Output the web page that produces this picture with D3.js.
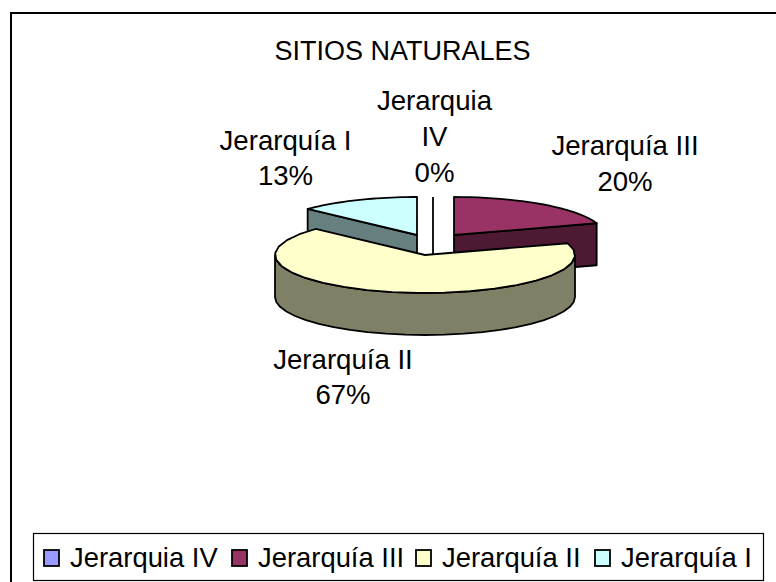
<!DOCTYPE html>
<html><head><meta charset="utf-8">
<script src="https://cdn.jsdelivr.net/npm/d3@7"></script>
<style>html,body{margin:0;padding:0;background:#fff}svg{display:block}text{font-family:"Liberation Sans",Arial,sans-serif;fill:#000}</style>
</head><body><svg id="c" width="776" height="582"></svg>
<script>
const categories=["Jerarquia IV","Jerarquía III","Jerarquía II","Jerarquía I"];
const values=[0,20,67,13];
const topColors=["#9999ff","#993366","#ffffcc","#ccffff"];
const sideColors=["#4d4d80","#4d1933","#808066","#668080"];
const centers=[[433,235],[454,235],[425,255],[417,235]];
const labelLines=[["Jerarquia","IV","0%"],["Jerarquía III","20%"],["Jerarquía II","67%"],["Jerarquía I","13%"]];
const labelPos=[[434.5,110],[625,155],[343,369],[285.5,150]];
const labelGap=[36,36,35,35];
const title="SITIOS NATURALES";

const W=776,H=582,rx=150,ry=38,depth=42,FS=27.6;
const svg=d3.select("#c");
svg.append("rect").attr("x",11).attr("y",13).attr("width",W).attr("height",H).attr("fill","#fff").attr("stroke","#000").attr("stroke-width",2);
svg.append("text").attr("x",402.5).attr("y",60).attr("text-anchor","middle").attr("font-size",27).text(title);

const arcs=d3.pie().value(d=>d).sort(null).startAngle(0).endAngle(2*Math.PI)(values);
const pt=(c,a,dy=0)=>[c[0]+rx*Math.sin(a),c[1]-ry*Math.cos(a)+dy];
const samp=(a0,a1)=>d3.range(0,25).map(i=>a0+(a1-a0)*i/24);
const line=d3.line();
const g=svg.append("g").attr("stroke","#000").attr("stroke-width",1.8).attr("stroke-linejoin","round");
function drawSlice(i){
  const d=arcs[i],c=centers[i],a0=d.startAngle,a1=d.endAngle;
  [a0,a1].forEach(a=>{
    if(Math.sin(a)*(a===a0?1:-1)<0){
      const t=pt(c,a);
      g.append("path").attr("fill",sideColors[i]).attr("d",line([c,t,[t[0],t[1]+depth],[c[0],c[1]+depth]])+"Z");
    }
  });
  const w0=Math.max(a0,Math.PI/2),w1=Math.min(a1,3*Math.PI/2);
  if(w1>w0){
    const s=samp(w0,w1);
    g.append("path").attr("fill",sideColors[i]).attr("d",line([...s.map(a=>pt(c,a)),...s.slice().reverse().map(a=>pt(c,a,depth))])+"Z");
  }
  g.append("path").attr("fill",topColors[i]).attr("d",line([c,...samp(a0,a1).map(a=>pt(c,a))])+"Z");
}
{const c=centers[0],t=pt(c,arcs[0].startAngle);g.append("path").attr("fill","none").attr("d",line([t,[c[0],c[1]+depth]]));}
[1,3,2].forEach(drawSlice);

labelLines.forEach((ls,i)=>{
  const t=svg.append("text").attr("text-anchor","middle").attr("font-size",FS).attr("x",labelPos[i][0]).attr("y",labelPos[i][1]);
  ls.forEach((s,j)=>t.append("tspan").attr("x",labelPos[i][0]).attr("dy",j?labelGap[i]:0).text(s));
});

svg.append("rect").attr("x",33.5).attr("y",533.5).attr("width",730).attr("height",47).attr("fill","#fff").attr("stroke","#000").attr("stroke-width",1.2);
const swX=[44,232,416,595];
categories.forEach((n,i)=>{
  svg.append("rect").attr("x",swX[i]).attr("y",550).attr("width",15).attr("height",16).attr("fill",topColors[i]).attr("stroke","#000").attr("stroke-width",1.8);
  svg.append("text").attr("x",swX[i]+26).attr("y",567).attr("font-size",27.4).text(n);
});
</script></body></html>
